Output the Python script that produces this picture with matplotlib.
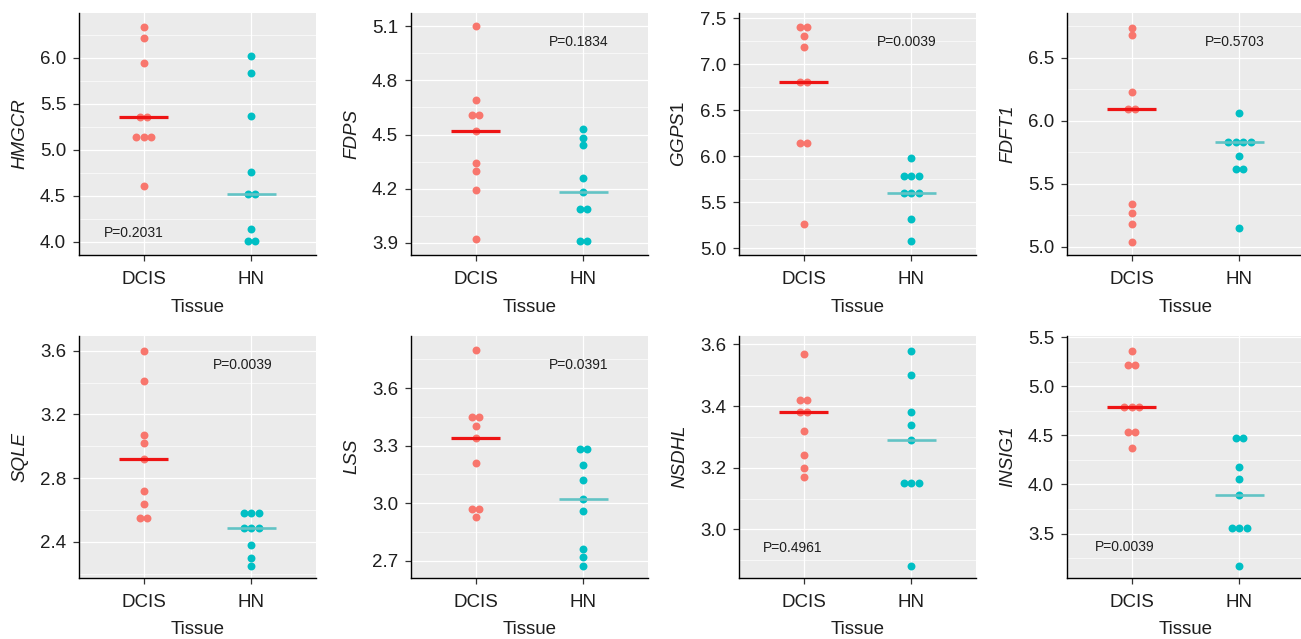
import matplotlib.pyplot as plt
from matplotlib.ticker import AutoMinorLocator, FormatStrFormatter
import numpy as np

plt.rcParams["font.family"] = ["Liberation Sans", "DejaVu Sans"]
plt.rcParams["mathtext.fontset"] = "custom"
plt.rcParams["mathtext.it"] = "Liberation Sans:italic"
plt.rcParams["mathtext.rm"] = "Liberation Sans"

groups = ["DCIS", "HN"]
genes = ["HMGCR", "FDPS", "GGPS1", "FDFT1", "SQLE", "LSS", "NSDHL", "INSIG1"]
gene_labels = ["HMGCR", "FDPS", r"GGPS$\mathit{1}$", "FDFT1", "SQLE", "LSS", "NSDHL", "INSIG1"]
p_values = ["P=0.2031", "P=0.1834", "P=0.0039", "P=0.5703",
            "P=0.0039", "P=0.0391", "P=0.4961", "P=0.0039"]

# expression values (9 samples per tissue)
hmgcr_dcis = [6.33, 6.21, 5.94, 5.36, 5.36, 5.14, 5.14, 5.14, 4.61]
hmgcr_hn = [6.02, 5.83, 5.37, 4.76, 4.52, 4.52, 4.14, 4.01, 4.01]
fdps_dcis = [5.10, 4.69, 4.61, 4.61, 4.52, 4.34, 4.30, 4.19, 3.92]
fdps_hn = [4.53, 4.48, 4.44, 4.26, 4.18, 4.09, 4.09, 3.91, 3.91]
ggps1_dcis = [7.41, 7.41, 7.31, 7.19, 6.81, 6.81, 6.14, 6.14, 5.26]
ggps1_hn = [5.98, 5.79, 5.79, 5.79, 5.60, 5.60, 5.60, 5.32, 5.08]
fdft1_dcis = [6.74, 6.68, 6.23, 6.09, 6.09, 5.34, 5.27, 5.18, 5.04]
fdft1_hn = [6.06, 5.83, 5.83, 5.83, 5.83, 5.72, 5.62, 5.62, 5.15]
sqle_dcis = [3.60, 3.41, 3.07, 3.02, 2.92, 2.72, 2.64, 2.55, 2.55]
sqle_hn = [2.58, 2.58, 2.58, 2.49, 2.49, 2.49, 2.38, 2.30, 2.25]
lss_dcis = [3.80, 3.45, 3.45, 3.40, 3.34, 3.21, 2.97, 2.97, 2.93]
lss_hn = [3.28, 3.28, 3.20, 3.12, 3.02, 2.96, 2.76, 2.72, 2.67]
nsdhl_dcis = [3.57, 3.42, 3.42, 3.38, 3.38, 3.32, 3.24, 3.20, 3.17]
nsdhl_hn = [3.58, 3.50, 3.38, 3.34, 3.29, 3.15, 3.15, 3.15, 2.88]
insig1_dcis = [5.36, 5.22, 5.22, 4.79, 4.79, 4.79, 4.53, 4.53, 4.37]
insig1_hn = [4.47, 4.47, 4.18, 4.06, 3.89, 3.56, 3.56, 3.56, 3.17]

dcis_values = [hmgcr_dcis, fdps_dcis, ggps1_dcis, fdft1_dcis,
               sqle_dcis, lss_dcis, nsdhl_dcis, insig1_dcis]
hn_values = [hmgcr_hn, fdps_hn, ggps1_hn, fdft1_hn,
             sqle_hn, lss_hn, nsdhl_hn, insig1_hn]

y_ticks = [
    [4.0, 4.5, 5.0, 5.5, 6.0],
    [3.9, 4.2, 4.5, 4.8, 5.1],
    [5.0, 5.5, 6.0, 6.5, 7.0, 7.5],
    [5.0, 5.5, 6.0, 6.5],
    [2.4, 2.8, 3.2, 3.6],
    [2.7, 3.0, 3.3, 3.6],
    [3.0, 3.2, 3.4, 3.6],
    [3.5, 4.0, 4.5, 5.0, 5.5],
]

# layout
y_limits = [(3.856, 6.488), (3.833, 5.174), (4.927, 7.562), (4.934, 6.858),
            (2.175, 3.695), (2.611, 3.874), (2.843, 3.629), (3.05, 5.516)]
p_pos = [(0.231, 0.091), (0.708, 0.88), (0.709, 0.88), (0.709, 0.88),
         (0.689, 0.878), (0.708, 0.878), (0.225, 0.124), (0.243, 0.126)]
col_left = [0.0607, 0.3159, 0.5680, 0.8201]
row_bottom = [0.601, 0.0959]
ax_w, ax_h = 0.1822, 0.379

dot_colors = ["#F8766D", "#00BFC4"]
median_colors = ["#EE1414", "#62C3C5"]
median_widths = [2.3, 1.9]
dodge = 0.07
text_color = "#1E1E1E"


def stack_offsets(values):
    # center tied values side by side like a dot plot
    values = np.asarray(values)
    offs = np.zeros(len(values))
    for v in np.unique(values):
        idx = np.where(values == v)[0]
        n = len(idx)
        offs[idx] = (np.arange(n) - (n - 1) / 2) * dodge
    return offs


def main():
    fig = plt.figure(figsize=(13.01, 6.39), dpi=100)

    for i, gene in enumerate(genes):
        r, c = divmod(i, 4)
        ax = fig.add_axes([col_left[c], row_bottom[r], ax_w, ax_h])
        ax.set_facecolor("#EBEBEB")

        for g, vals in enumerate([dcis_values[i], hn_values[i]]):
            x = g + 1 + stack_offsets(vals)
            ax.plot(x, vals, "o", color=dot_colors[g], markersize=5.7,
                    markeredgewidth=0, zorder=3)
            med = np.median(vals)
            ax.plot([g + 1 - 0.23, g + 1 + 0.23], [med, med],
                    color=median_colors[g], lw=median_widths[g],
                    solid_capstyle="butt", zorder=4)

        ax.set_xlim(0.4, 2.6)
        ax.set_xticks([1, 2])
        ax.set_xticklabels(groups)
        ax.set_ylim(*y_limits[i])
        ax.set_yticks(y_ticks[i])
        ax.yaxis.set_major_formatter(FormatStrFormatter("%.1f"))
        ax.yaxis.set_minor_locator(AutoMinorLocator(2))

        ax.grid(which="major", color="white", lw=0.9, zorder=0)
        ax.grid(which="minor", axis="y", color="white", lw=0.45, zorder=0)
        ax.set_axisbelow(True)

        for side in ["top", "right"]:
            ax.spines[side].set_visible(False)
        for side in ["left", "bottom"]:
            ax.spines[side].set_color("black")
            ax.spines[side].set_linewidth(1.0)

        ax.tick_params(axis="both", which="major", length=4.3, width=0.9,
                       color="#333333", labelsize=13.5, labelcolor=text_color)
        ax.tick_params(axis="x", pad=7.5)
        ax.tick_params(axis="y", pad=5.0)
        ax.tick_params(which="minor", length=0)

        ax.set_ylabel(gene_labels[i], fontsize=13.5, color=text_color,
                      fontstyle="italic", va="center")
        ax.yaxis.set_label_coords(-0.25, 0.5)
        ax.set_xlabel("Tissue", fontsize=13.5, color=text_color, va="center")
        ax.xaxis.set_label_coords(0.5, -0.215)

        ax.text(p_pos[i][0], p_pos[i][1], p_values[i], transform=ax.transAxes,
                ha="center", va="center", fontsize=10, color=text_color)

    fig.savefig("out.png", dpi=100)


if __name__ == "__main__":
    main()
